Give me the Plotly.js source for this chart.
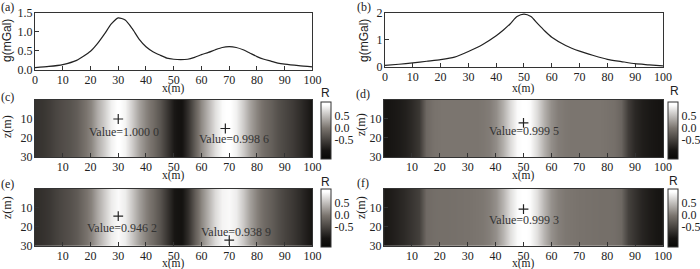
<!DOCTYPE html>
<html>
<head>
<meta charset="utf-8">
<script src="https://cdn.plot.ly/plotly-3.0.1.min.js"></script>
<style>html,body{margin:0;padding:0;background:#fff;}#chart{width:700px;height:269px;}</style>
</head>
<body>
<div id="chart"></div>
<script>
// ---- data ----
// panel (a): gravity anomaly, two sources
const xA = [0,5,10,15,20,22.5,25,27.5,30,32.5,35,37.5,40,42.5,45,47.5,50,52.5,55,57.5,60,62.5,65,67.5,70,72.5,75,77.5,80,82.5,85,87.5,90,95,100];
const gA = [0.05,0.08,0.13,0.24,0.48,0.68,0.93,1.2,1.36,1.3,1.08,0.8,0.6,0.47,0.38,0.3,0.27,0.26,0.27,0.32,0.39,0.45,0.52,0.58,0.6,0.58,0.52,0.43,0.34,0.27,0.22,0.17,0.14,0.1,0.07];
// panel (b): gravity anomaly, single source
const xB = [0,5,10,15,20,25,30,35,40,42.5,45,47.5,50,52.5,55,57.5,60,65,70,75,80,85,90,95,100];
const gB = [0.06,0.1,0.15,0.21,0.27,0.36,0.57,0.82,1.15,1.35,1.58,1.85,1.94,1.85,1.58,1.32,1.09,0.79,0.58,0.42,0.28,0.2,0.12,0.08,0.04];

// correlation coefficient profiles along x (same for every depth)
const xR = [0,2.5,5,7.5,10,12.5,15,17.5,20,22.5,25,27.5,30,32.5,35,37.5,40,42.5,45,47.5,50,52.5,55,57.5,60,62.5,65,67.5,70,72.5,75,77.5,80,82.5,85,87.5,90,92.5,95,97.5,100];
const zDepth = [-0.5,30.5];
const rC = [-0.65,-0.62,-0.55,-0.45,-0.38,-0.32,-0.22,-0.05,0.12,0.38,0.62,0.88,1.0,0.9,0.62,0.32,0.1,-0.08,-0.3,-0.6,-0.9,-1.0,-0.65,-0.2,0.15,0.45,0.75,0.95,1.0,0.88,0.62,0.32,0.1,-0.08,-0.2,-0.35,-0.45,-0.55,-0.68,-0.82,-0.95];
const rD = [-0.95,-0.92,-0.88,-0.82,-0.72,-0.58,-0.12,-0.02,0,0,0,0,0,0,0.02,0.06,0.18,0.42,0.72,0.95,1.0,0.95,0.72,0.42,0.18,0.06,0.02,0,0,0,0,0,-0.02,-0.05,-0.15,-0.55,-0.75,-0.85,-0.9,-0.93,-0.95];
const rE = [-0.7,-0.66,-0.6,-0.5,-0.42,-0.35,-0.25,-0.08,0.1,0.35,0.6,0.84,0.946,0.85,0.58,0.3,0.08,-0.1,-0.32,-0.62,-0.92,-1.0,-0.68,-0.22,0.12,0.42,0.72,0.9,0.939,0.85,0.6,0.3,0.08,-0.1,-0.22,-0.36,-0.48,-0.58,-0.7,-0.84,-0.95];
const rF = [-0.9,-0.85,-0.78,-0.7,-0.6,-0.5,-0.1,-0.06,-0.05,-0.05,-0.04,-0.03,-0.02,0,0.02,0.08,0.2,0.45,0.75,0.95,0.999,0.95,0.75,0.45,0.2,0.08,0.02,0,-0.02,-0.03,-0.04,-0.05,-0.05,-0.06,-0.12,-0.5,-0.65,-0.78,-0.86,-0.92,-0.95];

// maximum markers and labels
const markC = {x:[30,68.6], z:[10,15], tx:[32,71.7], tz:[16.8,20.4], text:['Value=1.000 0','Value=0.998 6']};
const markD = {x:[50], z:[12], tx:[50], tz:[16.4], text:['Value=0.999 5']};
const markE = {x:[30,70], z:[14.4,27], tx:[31.5,72.5], tz:[20.4,22.6], text:['Value=0.946 2','Value=0.938 9']};
const markF = {x:[50], z:[10.7], tx:[50], tz:[16.5], text:['Value=0.999 3']};

const panelLabels = ['(a)','(b)','(c)','(d)','(e)','(f)'];
const cbTicks = [-0.5,0,0.5];
const cbTickText = ['-0.5','0.0','0.5'];
const xTicksLine = [0,10,20,30,40,50,60,70,80,90,100];
const xTicksHeat = [10,20,30,40,50,60,70,80,90,100];
const zTicks = [10,20,30];

// ---- styling ----
const SERIF = 'Liberation Serif, Times New Roman, serif';
const SANS = 'Liberation Sans, Arial, sans-serif';
const INK = '#222';
const tf = {family: SERIF, size: 12, color: INK};

const gray = [[0,'rgb(8,8,6)'],[0.15,'rgb(22,20,18)'],[0.54,'rgb(122,116,110)'],[0.95,'rgb(255,255,255)'],[1,'rgb(255,255,255)']];

function axBase(extra){
  return Object.assign({showline:true, mirror:true, linecolor:'#333', linewidth:1,
    ticks:'inside', ticklen:4, tickcolor:'#333', tickfont:tf, ticklabelstandoff:-1,
    showgrid:false, zeroline:false, fixedrange:true}, extra);
}

const traces = [];
traces.push({type:'scatter', mode:'lines', x:xA, y:gA, xaxis:'x', yaxis:'y',
  line:{color:INK, width:1.2, shape:'spline', smoothing:0.6}, showlegend:false, hoverinfo:'skip'});
traces.push({type:'scatter', mode:'lines', x:xB, y:gB, xaxis:'x2', yaxis:'y2',
  line:{color:INK, width:1.2, shape:'spline', smoothing:0.6}, showlegend:false, hoverinfo:'skip'});

const heatDefs = [
  {r:rC, ax:'3', cbx:0.458, cby:0.5167, cblen:0.2104, mark:markC},
  {r:rD, ax:'4', cbx:0.954, cby:0.5167, cblen:0.2104, mark:markD},
  {r:rE, ax:'5', cbx:0.458, cby:0.1914, cblen:0.217, mark:markE},
  {r:rF, ax:'6', cbx:0.954, cby:0.1914, cblen:0.217, mark:markF}
];
const annotations = [];
heatDefs.forEach(h => {
  traces.push({type:'heatmap', x:xR, y:zDepth, z:[h.r, h.r], xaxis:'x'+h.ax, yaxis:'y'+h.ax,
    zmin:-1.3, zmax:1.1, colorscale:gray, zsmooth:'best', hoverinfo:'skip',
    colorbar:{x:h.cbx, xanchor:'left', y:h.cby, yanchor:'middle', len:h.cblen, lenmode:'fraction',
      thickness:10, thicknessmode:'pixels', outlinewidth:1, outlinecolor:'#333', bordercolor:'rgba(0,0,0,0)',
      tickvals:cbTicks, ticktext:cbTickText, ticks:'', tickfont:tf, xpad:0, ypad:0, title:{text:''}}});
  traces.push({type:'scatter', mode:'markers', x:h.mark.x, y:h.mark.z, xaxis:'x'+h.ax, yaxis:'y'+h.ax,
    marker:{symbol:'cross-thin-open', size:7, color:INK, line:{color:INK, width:1.2}}, showlegend:false, hoverinfo:'skip'});
  h.mark.text.forEach((t,i) => annotations.push({xref:'x'+h.ax, yref:'y'+h.ax, x:h.mark.tx[i], y:h.mark.tz[i],
    text:t, showarrow:false, font:{family:SERIF, size:12, color:'#333'}, xanchor:'center', yanchor:'middle'}));
});

function paperText(t, px, py, font, angle){
  annotations.push({xref:'paper', yref:'paper', x:px/700, y:1-py/269, text:t, showarrow:false,
    font:font, xanchor:'center', yanchor:'middle', textangle:angle||0, borderpad:0});
}
const fSerif = {family:SERIF, size:12, color:INK};
const fSerifX = {family:SERIF, size:11.5, color:INK};
const fSans = {family:SANS, size:12, color:INK};
// panel labels
[[7,7],[364,7],[7,97],[363,94],[7,184],[363,183]].forEach((p,i) => paperText(panelLabels[i], p[0], p[1], fSerif));
// x axis titles
[[173,88.5],[523,88.5],[173,175.5],[523,175.5],[173,263.5],[523,263.5]].forEach(p => paperText('x(m)', p[0], p[1], fSerifX));
// y axis titles
paperText('g(mGal)', 7, 41, fSans, -90);
paperText('g(mGal)', 364, 41, fSans, -90);
[[7,127],[361,125],[7,208],[361,208]].forEach(p => paperText('z(m)', p[0], p[1], fSerif, -90));
// colorbar titles
[[325,93],[674,91],[325,182],[673,181]].forEach(p => paperText('R', p[0], p[1], fSans));

const L = 0.05, R1 = 0.4464, L2a = 0.55, L2 = 0.5486, R2 = 0.9471;
const layout = {
  width:700, height:269, margin:{l:0,r:0,t:0,b:0}, paper_bgcolor:'#fff', plot_bgcolor:'#fff',
  showlegend:false,
  xaxis: axBase({domain:[L,R1], anchor:'y', range:[0,100], tickvals:xTicksLine}),
  yaxis: axBase({domain:[0.7416,0.9535], anchor:'x', range:[0,1.5], tickvals:[0,0.5,1,1.5], tickformat:'.1f'}),
  xaxis2: axBase({domain:[L2a,R2], anchor:'y2', range:[0,100], tickvals:xTicksLine}),
  yaxis2: axBase({domain:[0.751,0.9535], anchor:'x2', range:[0,2], tickvals:[0,1,2]}),
  xaxis3: axBase({domain:[L,R1], anchor:'y3', range:[0,100], tickvals:xTicksHeat}),
  yaxis3: axBase({domain:[0.4164,0.6283], anchor:'x3', range:[30,0], tickvals:zTicks}),
  xaxis4: axBase({domain:[L2,R2], anchor:'y4', range:[0,100], tickvals:xTicksHeat}),
  yaxis4: axBase({domain:[0.4164,0.6283], anchor:'x4', range:[30,0], tickvals:zTicks}),
  xaxis5: axBase({domain:[L,R1], anchor:'y5', range:[0,100], tickvals:xTicksHeat}),
  yaxis5: axBase({domain:[0.0866,0.2974], anchor:'x5', range:[30,0], tickvals:zTicks}),
  xaxis6: axBase({domain:[L2,R2], anchor:'y6', range:[0,100], tickvals:xTicksHeat}),
  yaxis6: axBase({domain:[0.0866,0.2974], anchor:'x6', range:[30,0], tickvals:zTicks}),
  annotations: annotations
};

Plotly.newPlot('chart', traces, layout, {staticPlot:true, displayModeBar:false});
</script>
</body>
</html>
